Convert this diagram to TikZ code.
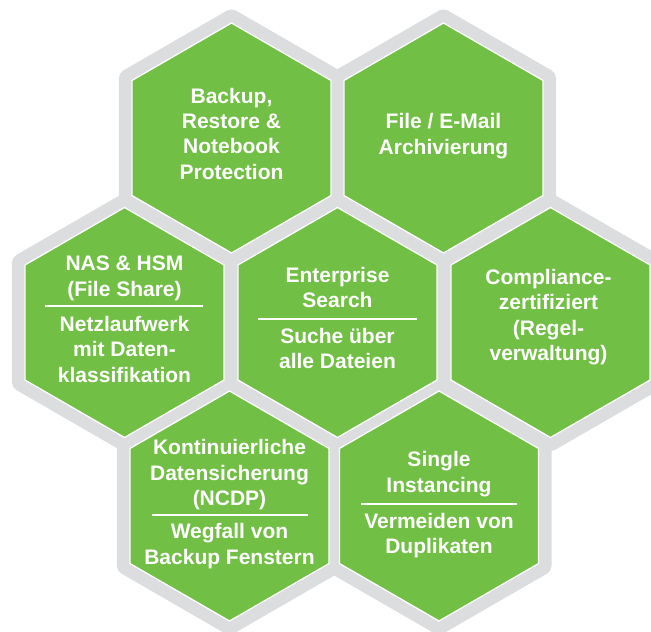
\documentclass[tikz,border=0pt]{standalone}
\usepackage{fontspec}
\setmainfont{Liberation Sans}
\definecolor{hexgreen}{RGB}{113,191,68}
\definecolor{hexgray}{RGB}{220,221,222}
\newcommand{\hexshape}[3]{\path[#1] ([shift={(30:#3)}]#2) -- ([shift={(90:#3)}]#2) -- ([shift={(150:#3)}]#2) -- ([shift={(210:#3)}]#2) -- ([shift={(270:#3)}]#2) -- ([shift={(330:#3)}]#2) -- cycle;}
\begin{document}
\begin{tikzpicture}[x=1pt,y=-1pt,
  outerhex/.style={fill=hexgray,rounded corners=5pt},
  innerhex/.style={fill=hexgreen,draw=white,line width=1.3pt},
  txt/.style={text=white,font=\bfseries\fontsize{21}{25.4}\selectfont,align=center,inner sep=0pt,anchor=base},
  sepline/.style={draw=white,line width=2pt}]
\useasboundingbox (0,0) rectangle (651,632);
% centres
\coordinate (hA) at (231.5,138);
\coordinate (hB) at (443.5,138);
\coordinate (hC) at (124.5,322.5);
\coordinate (hD) at (337.5,322.5);
\coordinate (hE) at (550.5,322.5);
\coordinate (hF) at (229.5,506);
\coordinate (hG) at (439,506);
% grey frames
\foreach \c in {hA,hB,hC,hD,hE,hF,hG}{\hexshape{outerhex}{\c}{130}}
% green cells
\foreach \c in {hA,hB,hC,hD,hE,hF,hG}{\hexshape{innerhex}{\c}{115}}
% texts (anchor = baseline of last line)
\node[txt] (tA) at (231.5,179.2) {Backup,\\Restore \&\\Notebook\\Protection};
\node[txt] (tB) at (443.5,154) {File / E-Mail\\Archivierung};
\node[txt] (tC1) at (124.5,296) {NAS \& HSM\\(File Share)};
\node[txt] (tC2) at (124.5,382) {Netzlaufwerk\\mit Daten-\\klassifikation};
\node[txt] (tD1) at (337.5,307.7) {Enterprise\\Search};
\node[txt] (tD2) at (337.5,368.7) {Suche über\\alle Dateien};
\node[txt] (tE) at (548.5,360.5) {Compliance-\\zertifiziert\\(Regel-\\verwaltung)};
\node[txt] (tF1) at (229.5,505.5) {Kontinuierliche\\Datensicherung\\(NCDP)};
\node[txt] (tF2) at (229.5,564) {Wegfall von\\Backup Fenstern};
\node[txt] (tG1) at (439,492) {Single\\Instancing};
\node[txt] (tG2) at (439,553.8) {Vermeiden von\\Duplikaten};
% separators
\coordinate (sC1) at (45,306);  \coordinate (sC2) at (203,306);
\coordinate (sD1) at (258,318.5); \coordinate (sD2) at (417,318.5);
\coordinate (sF1) at (152,515); \coordinate (sF2) at (308,515);
\coordinate (sG1) at (361,504); \coordinate (sG2) at (517,504);
\draw[sepline] (sC1) -- (sC2);
\draw[sepline] (sD1) -- (sD2);
\draw[sepline] (sF1) -- (sF2);
\draw[sepline] (sG1) -- (sG2);
\end{tikzpicture}
\end{document}
